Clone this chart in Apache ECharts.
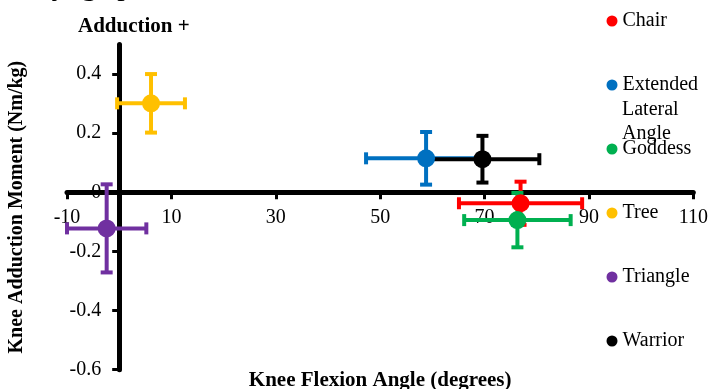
<!DOCTYPE html>
<html>
<head>
<meta charset="utf-8">
<script src="https://cdn.jsdelivr.net/npm/echarts@6/dist/echarts.min.js"></script>
<style>
html,body{margin:0;padding:0;background:#fff;}
#chart{width:720px;height:389px;}
</style>
</head>
<body>
<div id="chart"></div>
<script>
// ---- data ----
const poses = ['Chair', 'Extended Lateral Angle', 'Goddess', 'Tree', 'Triangle', 'Warrior'];
const kneeFlexion = [76.9, 58.8, 76.3, 6.1, -2.4, 69.6];          // degrees
const kneeAdduction = [-0.037, 0.115, -0.094, 0.301, -0.122, 0.112]; // Nm/kg
const flexionSD = [11.8, 11.5, 10.2, 6.5, 7.6, 10.9];
const adductionSD = [0.073, 0.089, 0.092, 0.099, 0.149, 0.079];
const poseColors = ['#FF0000', '#0070C0', '#00B050', '#FFC000', '#7030A0', '#000000'];
const xTickLabels = [-10, 10, 30, 50, 70, 90, 110];
const yTickLabels = [-0.6, -0.4, -0.2, 0, 0.2, 0.4];

const serif = '"Liberation Serif", "Times New Roman", serif';
const chart = echarts.init(document.getElementById('chart'), null, {renderer: 'canvas'});

// layout: grid box in pixels; axes are shifted onto the zero lines
const GRID = {left: 67, right: 26.7, top: 44.5, bottom: 19.3};
const W = 720, H = 389;
const X_MIN = xTickLabels[0], X_MAX = xTickLabels[xTickLabels.length - 1];
const Y_MIN = yTickLabels[0], Y_MAX = 0.5;
const plotW = W - GRID.left - GRID.right, plotH = H - GRID.top - GRID.bottom;
const xAxisOffset = -plotH * (0 - Y_MIN) / (Y_MAX - Y_MIN);   // move x axis up to y = 0
const yAxisOffset = -plotW * (0 - X_MIN) / (X_MAX - X_MIN);   // move y axis right to x = 0

const errData = poses.map((p, i) => [kneeFlexion[i], kneeAdduction[i], flexionSD[i], adductionSD[i]]);
const BAR_W = 4, CAP = 6;

function errorBars(params, api) {
  const x = api.value(0), y = api.value(1), sx = api.value(2), sy = api.value(3);
  const l = api.coord([x - sx, y]), r = api.coord([x + sx, y]);
  const t = api.coord([x, y + sy]), b = api.coord([x, y - sy]);
  const st = {stroke: poseColors[params.dataIndex], lineWidth: BAR_W, lineCap: 'butt'};
  const line = (x1, y1, x2, y2) => ({type: 'line', shape: {x1, y1, x2, y2}, style: st});
  return {
    type: 'group',
    children: [
      line(l[0], l[1], r[0], r[1]),
      line(t[0], t[1], b[0], b[1]),
      line(l[0], l[1] - CAP, l[0], l[1] + CAP),
      line(r[0], r[1] - CAP, r[0], r[1] + CAP),
      line(t[0] - CAP, t[1], t[0] + CAP, t[1]),
      line(b[0] - CAP, b[1], b[0] + CAP, b[1])
    ]
  };
}

const series = [{
  type: 'custom',
  name: 'errors',
  renderItem: errorBars,
  data: errData,
  encode: {x: 0, y: 1},
  z: 2,
  silent: true
}];
poses.forEach((p, i) => {
  series.push({
    type: 'scatter',
    name: p,
    data: [[kneeFlexion[i], kneeAdduction[i]]],
    symbol: 'circle',
    symbolSize: 18,
    itemStyle: {color: poseColors[i], opacity: 1},
    z: 3
  });
});

const option = {
  animation: false,
  backgroundColor: '#ffffff',
  title: {
    text: 'Adduction +',
    left: 78, top: 16, padding: 0,
    textStyle: {fontFamily: serif, fontWeight: 'bold', fontSize: 21, color: '#000'}
  },
  legend: {
    data: poses,
    orient: 'vertical',
    left: 606.5, top: 11, padding: 0,
    itemGap: 44,
    itemWidth: 11, itemHeight: 11,
    icon: 'circle',
    formatter: n => n === 'Extended Lateral Angle' ? 'Extended' : n,
    textStyle: {fontFamily: serif, fontSize: 20, color: '#000'}
  },
  graphic: [
    {type: 'text', left: 622, top: 100, style: {text: 'Lateral', font: '20px ' + serif, fill: '#000'}},
    {type: 'text', left: 622, top: 124, style: {text: 'Angle', font: '20px ' + serif, fill: '#000'}},
    {type: 'text', x: -11, y: -13, style: {text: 'each yoga posture.', font: '30px ' + serif, fill: '#000', verticalAlign: 'middle'}}
  ],
  grid: {left: GRID.left, right: GRID.right, top: GRID.top, bottom: GRID.bottom, containLabel: false, outerBoundsMode: 'none'},
  xAxis: {
    type: 'value',
    position: 'bottom',
    offset: xAxisOffset,
    min: X_MIN, max: X_MAX,
    interval: xTickLabels[1] - xTickLabels[0],
    name: 'Knee Flexion Angle (degrees)',
    nameLocation: 'middle', nameGap: 178,
    nameTextStyle: {fontFamily: serif, fontWeight: 'bold', fontSize: 21, color: '#000'},
    axisLine: {onZero: false, lineStyle: {color: '#000', width: 5}},
    axisTick: {show: true, length: 7, lineStyle: {color: '#000', width: 3}},
    axisLabel: {fontFamily: serif, fontSize: 20, color: '#000', margin: 15},
    splitLine: {show: false}
  },
  yAxis: {
    type: 'value',
    position: 'left',
    offset: yAxisOffset,
    min: Y_MIN, max: Y_MAX,
    interval: 0.2,
    name: 'Knee Adduction Moment (Nm/kg)',
    nameLocation: 'middle', nameGap: 92,
    nameTextStyle: {fontFamily: serif, fontWeight: 'bold', fontSize: 20, color: '#000'},
    axisLine: {onZero: false, lineStyle: {color: '#000', width: 5}},
    axisTick: {show: true, length: 7, lineStyle: {color: '#000', width: 3}},
    axisLabel: {fontFamily: serif, fontSize: 20, color: '#000', margin: 18, showMaxLabel: false,
      formatter: v => String(Math.round(v * 10) / 10)},
    splitLine: {show: false}
  },
  series: series
};
chart.setOption(option);
</script>
</body>
</html>
